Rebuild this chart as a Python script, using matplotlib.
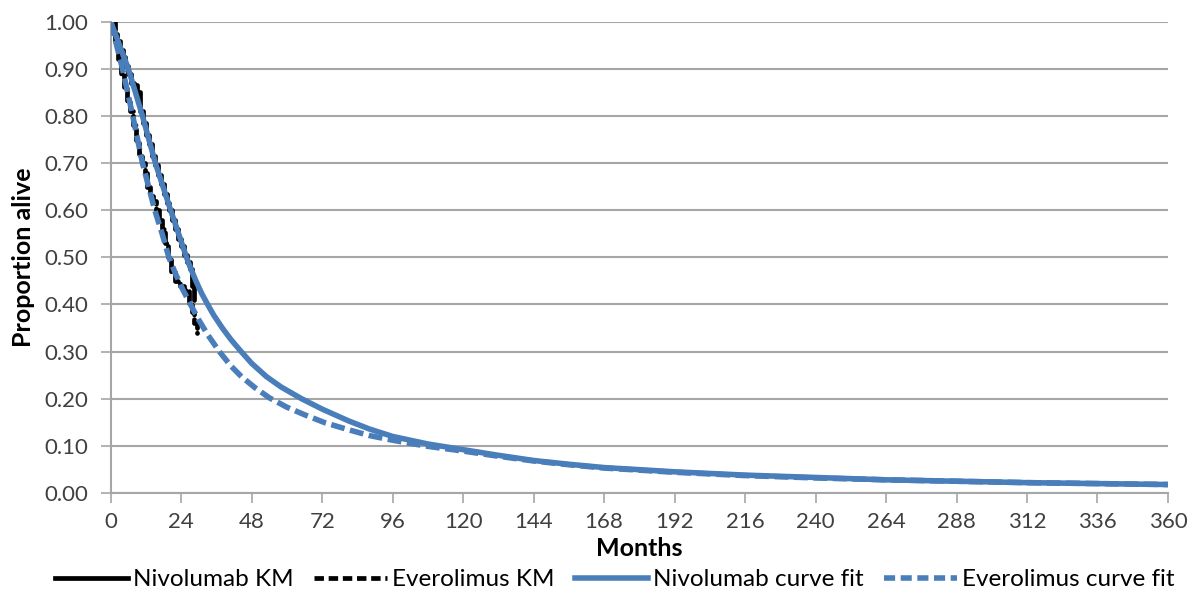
import matplotlib
matplotlib.use("Agg")
import matplotlib.pyplot as plt
from matplotlib.lines import Line2D

# ---------------- data ----------------
niv_km_months = [0, 1, 2, 3, 4, 5, 6, 7, 8, 9, 10, 11, 12, 13, 14, 15, 16, 17, 18, 19, 20, 21, 22, 23, 24, 25, 26, 27, 27.6, 28.2]
niv_km_surv = [1.0, 0.975, 0.96, 0.94, 0.925, 0.905, 0.89, 0.87, 0.865, 0.85, 0.81, 0.785, 0.76, 0.74, 0.715, 0.695, 0.675, 0.655, 0.635, 0.615, 0.60, 0.58, 0.56, 0.54, 0.525, 0.505, 0.49, 0.475, 0.44, 0.41]

eve_km_months = [0, 1.5, 2.5, 3.5, 4.5, 5.5, 6.5, 7.5, 8.5, 9.5, 10.5, 11.5, 12.5, 13.5, 14.5, 15.5, 16.5, 17.5, 18.5, 19.5, 20.5, 22, 23.5, 25, 26.5, 27.5, 28.5, 29.3]
eve_km_surv = [1.0, 0.96, 0.92, 0.89, 0.86, 0.83, 0.81, 0.78, 0.75, 0.72, 0.70, 0.68, 0.65, 0.63, 0.62, 0.60, 0.58, 0.56, 0.53, 0.50, 0.47, 0.45, 0.44, 0.43, 0.40, 0.385, 0.36, 0.34]

niv_fit_months = [0, 3, 6, 10.8, 15.2, 20.4, 23, 25.8, 27, 29, 31, 33, 35, 38, 41, 44, 48, 53, 58, 65, 72, 81,
                  88, 96, 108, 120, 132, 144, 156, 168, 192, 216, 240, 264, 288, 312, 336, 360]
niv_fit_vals = [1.0, 0.95, 0.9, 0.8, 0.7, 0.6, 0.552, 0.5, 0.48, 0.45, 0.423, 0.4, 0.378, 0.35, 0.325, 0.303, 0.275, 0.247, 0.225, 0.2, 0.178, 0.153,
                0.136, 0.12, 0.104, 0.092, 0.08, 0.069, 0.061, 0.054, 0.045, 0.038, 0.033, 0.028, 0.025, 0.022, 0.020, 0.018]

eve_fit_months = [0, 2, 4, 7.5, 10.8, 15, 17.5, 19.8, 22, 24.5, 27.5, 30, 33, 37, 41, 44.5, 49, 54, 60, 66, 73, 80,
                  88, 96, 108, 120, 132, 144, 156, 168, 192, 216, 240, 264, 288, 312, 336, 360]
eve_fit_vals = [1.0, 0.95, 0.9, 0.8, 0.7, 0.6, 0.55, 0.5, 0.466, 0.432, 0.396, 0.367, 0.336, 0.3, 0.269, 0.247, 0.224, 0.202, 0.182, 0.166, 0.149, 0.136,
                0.122, 0.112, 0.099, 0.089, 0.078, 0.068, 0.060, 0.053, 0.044, 0.037, 0.032, 0.028, 0.025, 0.022, 0.020, 0.018]

x_ticks = list(range(0, 361, 24))
y_ticks = [i / 10 for i in range(0, 11)]
series_labels = ["Nivolumab KM", "Everolimus KM", "Nivolumab curve fit", "Everolimus curve fit"]

# ---------------- figure ----------------
plt.rcParams['font.family'] = ['Lato', 'DejaVu Sans']
BLUE = '#4A7EBB'
GRID = '#A6A6A6'
DASH = (2.5, 1.0)

fig = plt.figure(figsize=(12, 6.05), dpi=100)
ax = fig.add_axes([0.0923, 0.1851, 0.8810, 0.7790])

ax.plot(niv_km_months, niv_km_surv, color='black', lw=3.4, drawstyle='steps-post',
        solid_capstyle='round', zorder=3)
ax.plot(eve_km_months, eve_km_surv, color='black', lw=3.4, drawstyle='steps-post',
        dashes=DASH, dash_capstyle='round', zorder=3)
ax.plot(niv_fit_months, niv_fit_vals, color=BLUE, lw=4.0, zorder=4,
        solid_joinstyle='round', solid_capstyle='butt')
ax.plot(eve_fit_months, eve_fit_vals, color=BLUE, lw=4.0, zorder=4,
        dashes=DASH, dash_capstyle='butt', dash_joinstyle='round')

ax.set_xlim(0, 360)
ax.set_ylim(0, 1.0)
ax.set_xticks(x_ticks)
ax.set_yticks(y_ticks)
ax.set_yticklabels([f"{v:.2f}" for v in y_ticks])
ax.tick_params(axis='both', labelsize=16, length=7, width=1.2,
               direction='out', color=GRID, labelcolor='#404040')
ax.tick_params(axis='x', pad=7)
ax.tick_params(axis='y', pad=9)

ax.grid(axis='y', color=GRID, lw=1.5)
ax.set_axisbelow(True)
for s in ['top', 'right']:
    ax.spines[s].set_visible(False)
for s in ['left', 'bottom']:
    ax.spines[s].set_color(GRID)
    ax.spines[s].set_linewidth(1.5)

ax.set_xlabel("Months", fontsize=18, fontweight='bold', labelpad=3)
ax.set_ylabel("Proportion alive", fontsize=18, fontweight='bold', labelpad=7)

handles = [
    Line2D([], [], color='black', lw=3.4),
    Line2D([], [], color='black', lw=3.4, dashes=(2.0, 1.0)),
    Line2D([], [], color=BLUE, lw=4.0),
    Line2D([], [], color=BLUE, lw=4.0, dashes=(2.0, 1.0)),
]
fig.legend(handles, series_labels, loc='lower center', bbox_to_anchor=(0.512, -0.012),
           ncol=4, frameon=False, fontsize=17.5, handlelength=3.0, columnspacing=0.85,
           handletextpad=0.2)

fig.savefig("out.png", dpi=100)
